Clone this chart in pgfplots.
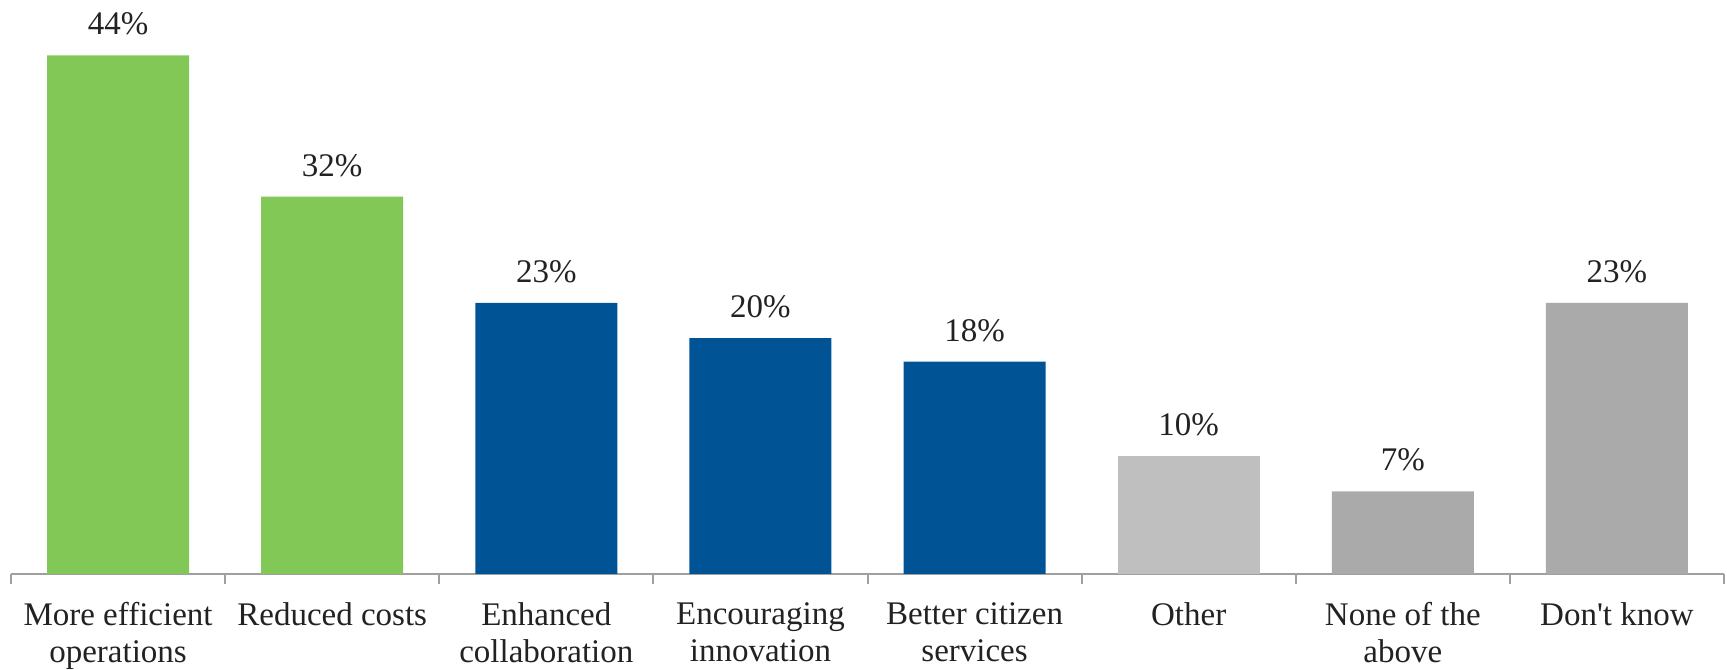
\documentclass[border=0pt]{standalone}
\usepackage{pgfplots}
\pgfplotsset{compat=1.18}
\usepackage{fontspec}
\setmainfont{Liberation Serif}
\definecolor{cgreen}{RGB}{130,200,87}
\definecolor{cblue}{RGB}{0,84,150}
\definecolor{clight}{RGB}{191,191,191}
\definecolor{cdark}{RGB}{170,170,170}
\definecolor{ctext}{RGB}{34,34,34}
\definecolor{caxis}{RGB}{160,160,160}
\begin{document}
\begin{tikzpicture}
\begin{axis}[
  scale only axis,
  width=856.5pt, height=286.9pt,
  xmin=-0.5, xmax=7.5, ymin=0, ymax=48.69,
  axis y line=none,
  axis x line*=bottom,
  x axis line style={caxis, line width=1pt},
  xtick={0,1,2,3,4,5,6,7},
  major x tick style={draw=none},
  minor xtick={-0.5,0.5,1.5,2.5,3.5,4.5,5.5,6.5,7.5},
  minor x tick style={caxis, line width=1pt},
  minor tick length=5pt,
  xtick align=outside,
  xticklabels={{More efficient\\operations},{Reduced costs},{Enhanced\\collaboration},{Encouraging\\innovation},{Better citizen\\services},{Other},{None of the\\above},{Don\textquotesingle t know}},
  xticklabel style={font=\fontsize{16.5}{18.5}\selectfont, text=ctext, align=center, anchor=north, inner sep=0pt, yshift=-10pt},
  ybar, bar shift=0pt, bar width=71pt,
  /pgf/number format/assume math mode=true,
  nodes near coords={\pgfmathprintnumber{\pgfplotspointmeta}\%},
  every node near coord/.append style={font=\fontsize{16.5}{16.5}\selectfont, text=ctext, anchor=south, inner sep=0pt, text depth=0pt, yshift=10pt},
  clip=false,
]
\addplot[draw=none, fill=cgreen] coordinates {(0,44) (1,32)};
\addplot[draw=none, fill=cblue] coordinates {(2,23) (3,20) (4,18)};
\addplot[draw=none, fill=clight] coordinates {(5,10)};
\addplot[draw=none, fill=cdark] coordinates {(6,7) (7,23)};
\end{axis}
\pgfresetboundingbox
\path[use as bounding box] ([xshift=-5.5pt,yshift=-47.6pt]current axis.south west) rectangle ([xshift=1.5pt]current axis.north east);
\end{tikzpicture}
\end{document}
